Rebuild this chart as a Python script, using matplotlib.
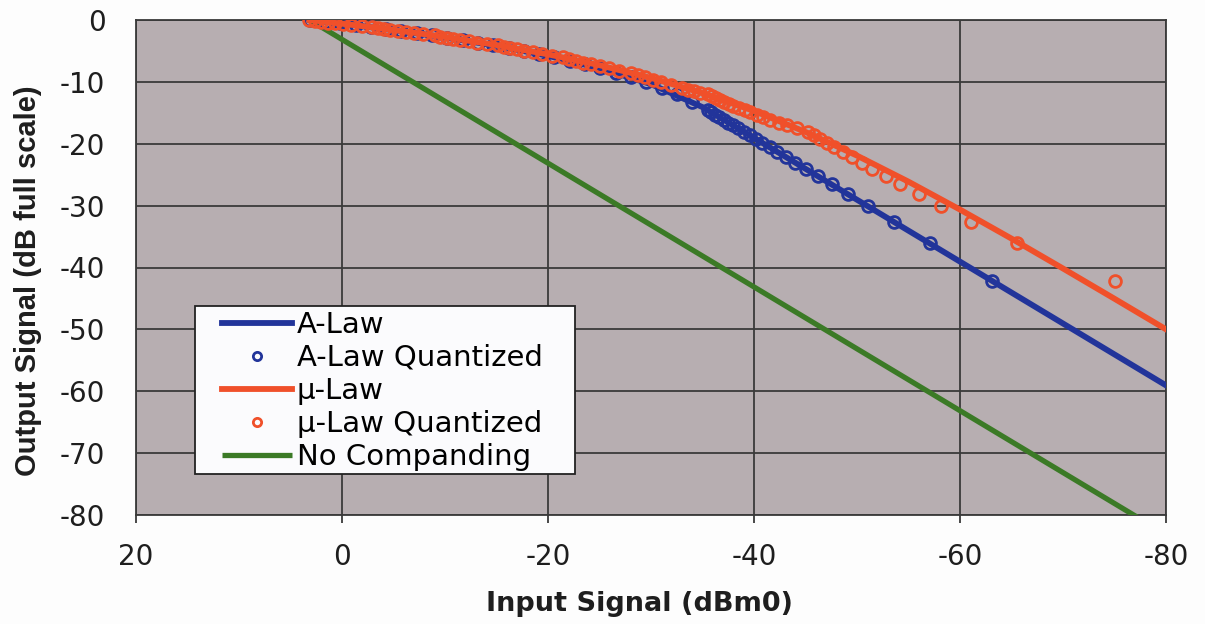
import matplotlib
matplotlib.use("Agg")
import matplotlib.pyplot as plt
from matplotlib.patches import Rectangle

plt.rcParams["axes.unicode_minus"] = False

# ---- data ----
alaw_x = [3.14, 0, -5, -10, -15, -20, -25, -30, -35, -35.7, -40, -50, -60, -70, -80]
alaw_y = [0, -0.59, -1.63, -2.81, -4.17, -5.79, -7.79, -10.37, -14.08, -14.76,
          -19.05, -29.05, -39.05, -49.05, -59.05]

alaw_q_x = [3.14, 1.65, 0.17, -1.32, -2.80, -4.29, -5.77, -7.26, -8.74, -10.23,
            -11.72, -13.20, -14.69, -16.17, -17.66, -19.14, -20.63, -22.12, -23.60, -25.09,
            -26.57, -28.06, -29.54, -31.03, -32.51, -34.00, -35.49, -35.86, -36.25, -36.65,
            -37.07, -37.52, -37.99, -38.48, -39.01, -39.57, -40.17, -40.81, -41.51, -42.26,
            -43.09, -44.00, -45.03, -46.19, -47.53, -49.11, -51.05, -53.55, -57.07, -63.09]
alaw_q_y = [0, -0.28, -0.56, -0.86, -1.16, -1.48, -1.80, -2.14, -2.50, -2.87,
            -3.26, -3.66, -4.08, -4.53, -5.00, -5.49, -6.02, -6.58, -7.18, -7.82,
            -8.52, -9.28, -10.10, -11.02, -12.04, -13.20, -14.54, -14.91, -15.30, -15.70,
            -16.12, -16.57, -17.04, -17.53, -18.06, -18.62, -19.22, -19.86, -20.56, -21.31,
            -22.14, -23.05, -24.08, -25.24, -26.58, -28.16, -30.10, -32.60, -36.12, -42.14]

mulaw_x = [3.17, 0, -5, -10, -15, -20, -25, -30, -35, -40, -45, -50, -55, -60,
           -65, -70, -75, -80]
mulaw_y = [0, -0.59, -1.60, -2.75, -4.05, -5.55, -7.30, -9.36, -11.82, -14.7,
           -18.09, -21.92, -26.13, -30.64, -35.33, -40.16, -45.05, -49.99]

mulaw_q_x = [3.17, 2.6, 2.0, 1.36, 0.66, -0.1, -0.9, -1.9, -2.9, -3.5,
             -4.1, -4.7, -5.4, -6.2, -7.0, -7.9, -9.0, -9.55, -10.2, -10.8,
             -11.5, -12.3, -13.15, -14.1, -15.1, -15.7, -16.35, -17.0, -17.7, -18.5,
             -19.4, -20.4, -21.45, -22.05, -22.7, -23.4, -24.15, -25.0, -25.9, -26.9,
             -28.1, -28.75, -29.4, -30.2, -31.0, -31.95, -33.0, -33.55, -34.15, -34.8,
             -35.5, -35.9, -36.3, -36.7, -37.1, -37.6, -38.0, -38.5, -39.1, -39.65,
             -40.3, -40.9, -41.6, -42.4, -43.2, -44.2, -45.2, -45.8, -46.4, -47.1,
             -47.8, -48.6, -49.5, -50.45, -51.5, -52.8, -54.2, -56.0, -58.2, -61.1,
             -65.5, -75.0]
mulaw_q_y = [0, -0.14, -0.28, -0.42, -0.56, -0.71, -0.86, -1.01, -1.16, -1.32,
             -1.48, -1.64, -1.80, -1.97, -2.14, -2.32, -2.50, -2.68, -2.87, -3.06,
             -3.25, -3.46, -3.66, -3.87, -4.08, -4.30, -4.53, -4.76, -5.00, -5.24,
             -5.49, -5.75, -6.02, -6.30, -6.58, -6.88, -7.18, -7.50, -7.82, -8.17,
             -8.52, -8.89, -9.28, -9.67, -10.10, -10.55, -11.02, -11.26, -11.52, -11.78,
             -12.04, -12.32, -12.60, -12.90, -13.20, -13.52, -13.85, -14.19, -14.54, -14.91,
             -15.30, -15.70, -16.12, -16.57, -17.04, -17.53, -18.06, -18.62, -19.22, -19.86,
             -20.56, -21.31, -22.14, -23.05, -24.08, -25.24, -26.58, -28.16, -30.10, -32.60,
             -36.12, -42.14]

nocomp_x = [3.14, -78.0]
nocomp_y = [0, -81.14]

x_ticks = [20, 0, -20, -40, -60, -80]
y_ticks = [0, -10, -20, -30, -40, -50, -60, -70, -80]

series_labels = ["A-Law", "A-Law Quantized", "μ-Law", "μ-Law Quantized", "No Companding"]

# ---- styling ----
BLUE = "#22349a"
RED = "#f0502a"
GREEN = "#3b7a26"
PLOTBG = "#b7aeb1"
GRID = "#3a3a3a"

W, H = 1205, 624
AX_L, AX_R, AX_T, AX_B = 136, 1166, 20, 515
AXW, AXH = AX_R - AX_L, AX_B - AX_T


def ax_x(px):
    return (px - AX_L) / AXW


def ax_y(py):
    return (AX_B - py) / AXH


fig = plt.figure(figsize=(W / 100, H / 100), dpi=100, facecolor="#fdfdfd")
ax = fig.add_axes([AX_L / W, 1 - AX_B / H, AXW / W, AXH / H])
ax.set_facecolor(PLOTBG)

h_green, = ax.plot(nocomp_x, nocomp_y, color=GREEN, lw=3.8, solid_capstyle="butt",
                   zorder=3)
h_alaw, = ax.plot(alaw_x, alaw_y, color=BLUE, lw=4.2, zorder=4)
h_alaw_q, = ax.plot(alaw_q_x, alaw_q_y, ls="none", marker="o", ms=8.5, mfc="none",
                    mec=BLUE, mew=2.0, zorder=5)
h_mulaw, = ax.plot(mulaw_x, mulaw_y, color=RED, lw=4.2, zorder=6)
h_mulaw_q, = ax.plot(mulaw_q_x, mulaw_q_y, ls="none", marker="o", ms=8.5, mfc="none",
                     mec=RED, mew=2.0, zorder=7)

ax.set_xlim(20, -80)
ax.set_ylim(-80, 0)
ax.set_xticks(x_ticks)
ax.set_yticks(y_ticks)
ax.grid(True, color=GRID, lw=1.3, zorder=1)
ax.set_axisbelow(True)
for s in ax.spines.values():
    s.set_color(GRID)
    s.set_linewidth(1.3)

ax.tick_params(axis="x", direction="out", length=6, width=1.3, color=GRID,
               pad=14, labelsize=20, labelcolor="#1e1e1e")
ax.tick_params(axis="y", direction="out", length=0, pad=22, labelsize=20,
               labelcolor="#1e1e1e")
for lab in ax.get_xticklabels() + ax.get_yticklabels():
    lab.set_family("DejaVu Sans")

ax.set_xlabel("Input Signal (dBm0)", fontsize=19.5, fontweight="bold",
              family="DejaVu Sans", color="#1e1e1e")
ax.xaxis.set_label_coords(ax_x(639), ax_y(604))
ax.xaxis.label.set_va("center")
ax.set_ylabel("Output Signal (dB full scale)", fontsize=21, fontweight="bold",
              family="Liberation Sans", color="#1e1e1e")
ax.yaxis.set_label_coords(ax_x(28), ax_y(281))
ax.yaxis.label.set_va("center")

# legend box (white panel with dark border)
box = Rectangle((ax_x(195), ax_y(474)), (575 - 195) / AXW, (474 - 306) / AXH,
                transform=ax.transAxes, facecolor="#fbfbfd", edgecolor="#222222",
                lw=1.3, zorder=9)
ax.add_patch(box)

leg = ax.legend([h_alaw, h_alaw_q, h_mulaw, h_mulaw_q, h_green], series_labels,
                loc="upper left",
                bbox_to_anchor=(ax_x(222), ax_y(311)),
                borderaxespad=0, frameon=False,
                prop={"family": "DejaVu Sans", "size": 21},
                handlelength=2.4, handletextpad=0.17, labelspacing=0.17,
                borderpad=0.0, markerscale=0.7)
leg.set_zorder(10)

fig.savefig("out.png", dpi=100, facecolor=fig.get_facecolor())
